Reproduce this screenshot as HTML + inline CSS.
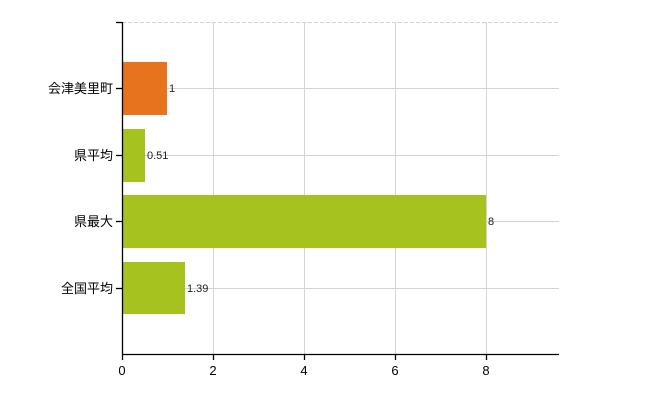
<!DOCTYPE html><html><head><style>body{margin:0;background:#fff}svg{font-family:"Liberation Sans","Noto Sans CJK JP",sans-serif}</style></head><body>
<svg width="650" height="400" xmlns="http://www.w3.org/2000/svg">
<g stroke="#d4d4d4" stroke-width="1">
<line x1="122" y1="22.5" x2="559" y2="22.5" stroke-dasharray="4,2"/>
<line x1="122" y1="88.5" x2="559" y2="88.5"/>
<line x1="122" y1="155.5" x2="559" y2="155.5"/>
<line x1="122" y1="221.5" x2="559" y2="221.5"/>
<line x1="122" y1="288.5" x2="559" y2="288.5"/>
<line x1="213.5" y1="22" x2="213.5" y2="354"/>
<line x1="304.5" y1="22" x2="304.5" y2="354"/>
<line x1="395.5" y1="22" x2="395.5" y2="354"/>
<line x1="486.5" y1="22" x2="486.5" y2="354"/>
</g>
<rect x="123" y="62" width="44" height="53" fill="#e8731e"/>
<rect x="123" y="129" width="22" height="53" fill="#a5c21e"/>
<rect x="123" y="195" width="363" height="53" fill="#a5c21e"/>
<rect x="123" y="262" width="62" height="52" fill="#a5c21e"/>
<g stroke="#000" stroke-width="1.3">
<line x1="122.5" y1="22" x2="122.5" y2="354"/>
<line x1="116" y1="22.5" x2="122" y2="22.5"/>
<line x1="116" y1="88.5" x2="122" y2="88.5"/>
<line x1="116" y1="155.5" x2="122" y2="155.5"/>
<line x1="116" y1="221.5" x2="122" y2="221.5"/>
<line x1="116" y1="288.5" x2="122" y2="288.5"/>
<line x1="122" y1="354.5" x2="559" y2="354.5"/>
<line x1="122.5" y1="354" x2="122.5" y2="360"/>
<line x1="213.5" y1="354" x2="213.5" y2="360"/>
<line x1="304.5" y1="354" x2="304.5" y2="360"/>
<line x1="395.5" y1="354" x2="395.5" y2="360"/>
<line x1="486.5" y1="354" x2="486.5" y2="360"/>
</g>
<g font-size="13" text-anchor="end" fill="#000">
<text x="113" y="93">会津美里町</text>
<text x="113" y="160">県平均</text>
<text x="113" y="226">県最大</text>
<text x="113" y="293">全国平均</text>
</g>
<g font-size="13" text-anchor="middle" fill="#000">
<text x="122" y="375">0</text><text x="213" y="375">2</text><text x="304" y="375">4</text><text x="395" y="375">6</text><text x="486" y="375">8</text>
</g>
<g font-size="11" fill="#222">
<text x="169" y="92">1</text>
<text x="147" y="159">0.51</text>
<text x="488" y="225">8</text>
<text x="187" y="292">1.39</text>
</g>
</svg></body></html>
